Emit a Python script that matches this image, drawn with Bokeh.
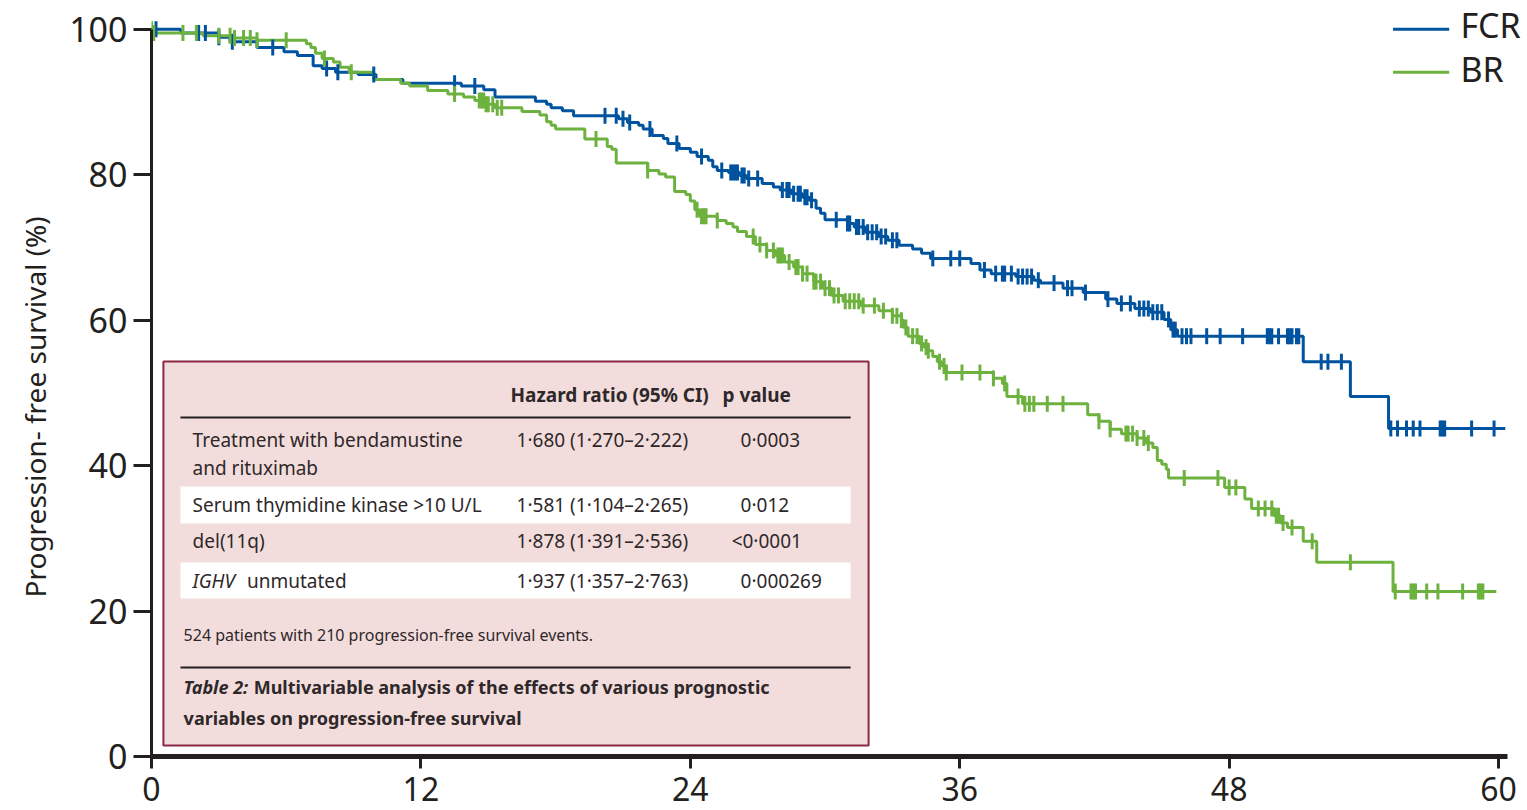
import numpy as np
from bokeh.plotting import figure
from bokeh.models import Range1d, FixedTicker, Label, Title
from bokeh.core.properties import value
from bokeh.embed import file_html
from bokeh.resources import INLINE

# ---- axes ----
month_ticks = [0, 12, 24, 36, 48, 60]
pfs_ticks = [0, 20, 40, 60, 80, 100]
y_title = "Progression- free survival (%)"

# ---- Kaplan-Meier estimates: (month, % progression-free after the step) ----
fcr_steps = [
    (0, 100), (1.3, 99.5), (3.0, 98.9), (3.5, 98.3), (4.7, 97.5), (5.9, 96.9),
    (6.5, 96.4), (7.2, 95.0), (7.6, 94.6), (8.2, 94.1), (9.2, 93.8), (10.0, 93.1),
    (11.2, 92.6), (13.8, 92.2), (14.8, 91.7), (15.3, 90.7), (17.1, 90.1), (17.6, 89.7),
    (17.8, 89.2), (18.3, 88.8), (18.8, 88.1), (20.8, 87.7), (21.2, 87.2), (21.7, 86.8),
    (21.9, 86.3), (22.3, 85.4), (22.8, 85.0), (23.0, 84.3), (23.5, 83.6), (24.0, 83.1),
    (24.3, 82.5), (24.8, 82.0), (25.0, 81.1), (25.2, 80.6), (25.7, 80.3), (26.2, 79.9),
    (26.5, 79.5), (27.2, 78.8), (27.7, 78.3), (28.0, 77.9), (28.5, 77.4), (29.0, 76.9),
    (29.3, 76.5), (29.6, 75.4), (29.8, 74.7), (30.0, 73.8), (31.0, 73.3), (31.3, 72.8),
    (31.8, 72.1), (32.4, 71.5), (32.8, 71.0), (33.3, 70.3), (33.9, 69.8), (34.3, 69.2),
    (34.7, 68.5), (36.5, 67.8), (36.9, 66.9), (37.4, 66.4), (38.5, 66.0), (39.3, 65.5),
    (39.6, 65.1), (40.6, 64.4), (41.5, 63.8), (42.5, 62.9), (43.0, 62.3), (43.8, 61.6),
    (44.5, 61.1), (45.1, 60.1), (45.4, 58.7), (45.7, 57.8), (51.3, 54.3), (53.4, 49.5),
    (55.1, 45.1),
]
fcr_last_followup = 60.3
fcr_censored = [
    0.2, 2.1, 2.4, 3.0, 3.6, 5.4, 7.8, 8.3, 9.9, 13.5, 14.4, 20.2, 20.7, 21.0, 21.3,
    22.2, 23.4, 24.5, 25.4, 25.8, 25.9, 26.0, 26.1, 26.3, 26.4, 26.6, 27.0, 28.1, 28.3,
    28.4, 28.6, 28.8, 28.9, 29.1, 29.2, 29.4, 30.5, 31.0, 31.1, 31.4, 31.5, 31.7, 31.9,
    32.1, 32.3, 32.5, 32.7, 33.0, 33.2, 34.8, 35.6, 36.0, 37.1, 37.6, 37.9, 38.0, 38.3,
    38.6, 38.8, 39.0, 39.2, 39.5, 40.2, 40.8, 41.0, 41.6, 42.6, 43.2, 43.6, 44.0, 44.2,
    44.4, 44.6, 44.8, 45.0, 45.3, 45.5, 45.6, 45.9, 46.1, 46.3, 47.0, 47.6, 48.6, 49.7,
    49.8, 49.9, 50.2, 50.6, 50.7, 50.8, 51.0, 51.1, 52.1, 52.4, 53.0, 55.2, 55.5, 55.9,
    56.2, 56.5, 57.4, 57.5, 57.6, 58.8, 59.8,
]

br_steps = [
    (0, 100), (0.1, 99.5), (2.3, 99.1), (3.6, 98.8), (4.7, 98.5), (6.9, 98.0),
    (7.1, 97.5), (7.3, 96.7), (7.6, 96.0), (8.1, 95.5), (8.4, 94.8), (8.8, 94.1),
    (9.9, 93.1), (11.1, 92.6), (11.5, 92.2), (12.3, 91.6), (13.2, 91.1), (13.9, 90.7),
    (14.4, 90.2), (14.9, 89.7), (15.3, 89.2), (16.5, 88.7), (17.3, 88.2), (17.6, 87.3),
    (17.8, 86.8), (18.0, 86.3), (19.3, 84.9), (20.3, 83.9), (20.5, 83.5), (20.7, 81.6),
    (22.1, 80.6), (22.6, 80.1), (22.9, 79.7), (23.3, 77.7), (23.8, 77.3), (24.0, 76.4),
    (24.2, 75.2), (24.4, 74.3), (25.2, 73.7), (25.6, 73.3), (25.9, 72.8), (26.1, 72.2),
    (26.5, 71.5), (26.9, 70.4), (27.4, 69.6), (27.8, 68.9), (28.2, 68.0), (28.6, 67.3),
    (29.0, 66.4), (29.5, 65.3), (29.9, 64.4), (30.3, 63.4), (30.8, 62.6), (31.6, 62.0),
    (32.4, 61.3), (33.0, 60.6), (33.4, 60.0), (33.5, 59.0), (33.7, 57.8), (34.2, 56.8),
    (34.4, 56.3), (34.6, 55.8), (34.8, 55.0), (35.0, 54.3), (35.2, 53.7), (35.4, 52.8),
    (37.5, 52.0), (37.9, 51.3), (38.1, 49.5), (38.8, 48.5), (41.7, 47.0), (42.2, 46.1),
    (42.7, 45.0), (43.2, 44.4), (43.9, 43.8), (44.3, 43.1), (44.6, 42.5), (44.8, 40.7),
    (45.0, 40.2), (45.2, 39.5), (45.3, 38.3), (47.8, 37.0), (48.7, 35.4), (49.0, 34.1),
    (50.0, 33.1), (50.3, 32.1), (50.6, 31.5), (51.3, 29.6), (51.9, 26.7), (55.3, 22.7),
]
br_last_followup = 59.9
br_censored = [
    0.0, 0.1, 1.4, 2.0, 3.0, 3.5, 3.7, 4.1, 4.4, 4.7, 6.0, 7.7, 8.9, 13.5, 14.6, 14.7,
    14.8, 14.9, 15.0, 15.2, 15.4, 15.6, 19.8, 22.1, 24.3, 24.5, 24.6, 24.7, 25.2, 26.8,
    27.1, 27.4, 27.7, 27.9, 28.0, 28.1, 28.4, 28.7, 28.8, 29.0, 29.2, 29.5, 29.6, 29.8,
    30.0, 30.2, 30.4, 30.6, 30.9, 31.1, 31.3, 31.5, 31.7, 32.2, 32.6, 33.0, 33.2, 33.4,
    33.6, 33.9, 34.1, 34.3, 34.5, 34.6, 35.1, 35.3, 35.4, 36.1, 36.9, 37.5, 38.0, 38.6,
    38.9, 39.1, 39.3, 39.9, 40.6, 42.2, 42.7, 43.4, 43.5, 43.7, 43.9, 44.2, 44.4, 46.0,
    47.5, 48.0, 48.3, 49.3, 49.6, 49.9, 50.1, 50.2, 50.4, 50.8, 51.7, 53.4, 55.4, 56.1,
    56.2, 56.3, 56.8, 57.3, 58.4, 59.1, 59.2, 59.3,
]

arm_names = ["FCR", "BR"]

# ---- inset table ----
table_header = ["Hazard ratio (95% CI)", "p value"]
table_variables = ["Treatment with bendamustine", "Serum thymidine kinase >10 U/L",
                   "del(11q)", "IGHV unmutated"]
table_hazard_ratios = ["1·680 (1·270–2·222)", "1·581 (1·104–2·265)",
                       "1·878 (1·391–2·536)", "1·937 (1·357–2·763)"]
table_p_values = ["0·0003", "0·012", "<0·0001", "0·000269"]
table_footnote = "524 patients with 210 progression-free survival events."
table_caption = ["Table 2:", "Multivariable analysis of the effects of various prognostic",
                 "variables on progression-free survival"]

FCR_BLUE = "#00539F"
BR_GREEN = "#6DB23F"
INK = "#231F20"
TABLE_INK = "#2E282A"
FONT = "Noto Sans"


def km_path(steps, last):
    t = [a for a, _ in steps] + [last]
    s = [b for _, b in steps] + [steps[-1][1]]
    return t, s


def km_value(steps, times):
    t = np.array([a for a, _ in steps])
    s = np.array([b for _, b in steps])
    idx = np.searchsorted(t, np.asarray(times), side="right") - 1
    return s[np.clip(idx, 0, None)]


p = figure(width=1527, height=810,
           x_range=Range1d(0, 61.2), y_range=Range1d(0, 103),
           output_backend="svg", toolbar_location=None,
           min_border_left=151, min_border_right=2,
           min_border_top=7, min_border_bottom=54)
p.outline_line_color = None
p.grid.visible = False
p.background_fill_color = "white"
p.border_fill_color = "white"

# x axis
p.xaxis.ticker = FixedTicker(ticks=month_ticks)
p.xaxis.bounds = (0, 60.4)
p.xaxis.axis_line_width = 5
p.xaxis.axis_line_color = INK
p.xaxis.major_tick_line_width = 3
p.xaxis.major_tick_line_color = INK
p.xaxis.major_tick_out = 12
p.xaxis.major_tick_in = 0
p.xaxis.minor_tick_line_color = None
p.xaxis.major_label_standoff = 8
p.xaxis.major_label_text_font = FONT
p.xaxis.major_label_text_font_size = "32px"
p.xaxis.major_label_text_color = INK

# y axis
p.yaxis.ticker = FixedTicker(ticks=pfs_ticks)
p.yaxis.bounds = (0, 100)
p.yaxis.axis_line_width = 3
p.yaxis.axis_line_color = INK
p.yaxis.major_tick_line_width = 3
p.yaxis.major_tick_line_color = INK
p.yaxis.major_tick_out = 18
p.yaxis.major_tick_in = 0
p.yaxis.minor_tick_line_color = None
p.yaxis.major_label_standoff = 6
p.yaxis.major_label_text_font = FONT
p.yaxis.major_label_text_font_size = "34px"
p.yaxis.major_label_text_color = INK

# y-axis title, placed beside the tick labels and started above the baseline
p.add_layout(Title(text=y_title, align="left", offset=159, standoff=25,
                   text_font=FONT, text_font_size="28px", text_font_style="normal",
                   text_color=INK), "left")

# ---- inset table (drawn first so the curves sit on top) ----
p.quad(left=[0.53], right=[31.94], bottom=[1.51], top=[54.32],
       fill_color="#F3DDDC", line_color="#8A2845", line_width=2)
p.quad(left=[1.29, 1.29], right=[31.14, 31.14], bottom=[32.04, 21.73], top=[37.13, 26.68],
       fill_color="white", line_color=None)
p.segment(x0=[1.29, 1.29], y0=[46.62, 12.24], x1=[31.14, 31.14], y1=[46.62, 12.24],
          line_color=INK, line_width=2)

row_y = [43.59, 34.65, 29.57, 24.20]
txt = dict(text_font=value(FONT), text_baseline="middle", text_color=TABLE_INK)

p.text(x=[15.99, 25.43], y=[49.78, 49.78], text=table_header,
       text_font_size=value("19px"), text_font_style="bold", **txt)
# variable names (IGHV is set in italics)
p.text(x=[1.83, 1.83, 1.83], y=[row_y[0], row_y[1], row_y[2]],
       text=table_variables[:3], text_font_size=value("19px"), **txt)
p.text(x=[1.83], y=[39.74], text=["and rituximab"], text_font_size=value("19px"), **txt)
ighv, rest = table_variables[3].split(" ", 1)
p.text(x=[1.83], y=[row_y[3]], text=[ighv], text_font_size=value("19px"),
       text_font_style="italic", **txt)
p.text(x=[4.25], y=[row_y[3]], text=[rest], text_font_size=value("19px"), **txt)
p.text(x=[16.26] * 4, y=row_y, text=table_hazard_ratios,
       text_font_size=value("19px"), **txt)
p.text(x=[26.24, 26.24, 25.84, 26.24], y=row_y, text=table_p_values,
       text_font_size=value("19px"), **txt)
p.text(x=[1.43], y=[16.64], text=[table_footnote], text_font_size=value("16px"), **txt)
p.text(x=[1.43], y=[9.49], text=[table_caption[0]], text_font_size=value("18px"),
       text_font_style="bold italic", **txt)
p.text(x=[4.55, 1.43], y=[9.49, 5.36], text=table_caption[1:],
       text_font_size=value("18px"), text_font_style="bold", **txt)

# ---- survival curves ----
for steps, last, color in [(fcr_steps, fcr_last_followup, FCR_BLUE),
                           (br_steps, br_last_followup, BR_GREEN)]:
    t, s = km_path(steps, last)
    p.step(t, s, mode="after", line_width=3, line_color=color)

for steps, cens, color in [(fcr_steps, fcr_censored, FCR_BLUE),
                           (br_steps, br_censored, BR_GREEN)]:
    p.scatter(cens, km_value(steps, cens), marker="dash", angle=np.pi / 2,
              size=16, line_width=3, line_color=color)

# ---- legend ----
p.segment(x0=[55.3, 55.3], y0=[100.0, 94.1], x1=[57.8, 57.8], y1=[100.0, 94.1],
          line_color=[FCR_BLUE, BR_GREEN], line_width=3)
for name, y in zip(arm_names, [100.65, 94.5]):
    p.add_layout(Label(x=58.3, y=y, text=name, text_baseline="middle",
                       text_font=FONT, text_font_size="34px", text_color=INK))

open("out.html", "w").write(file_html(p, INLINE))
